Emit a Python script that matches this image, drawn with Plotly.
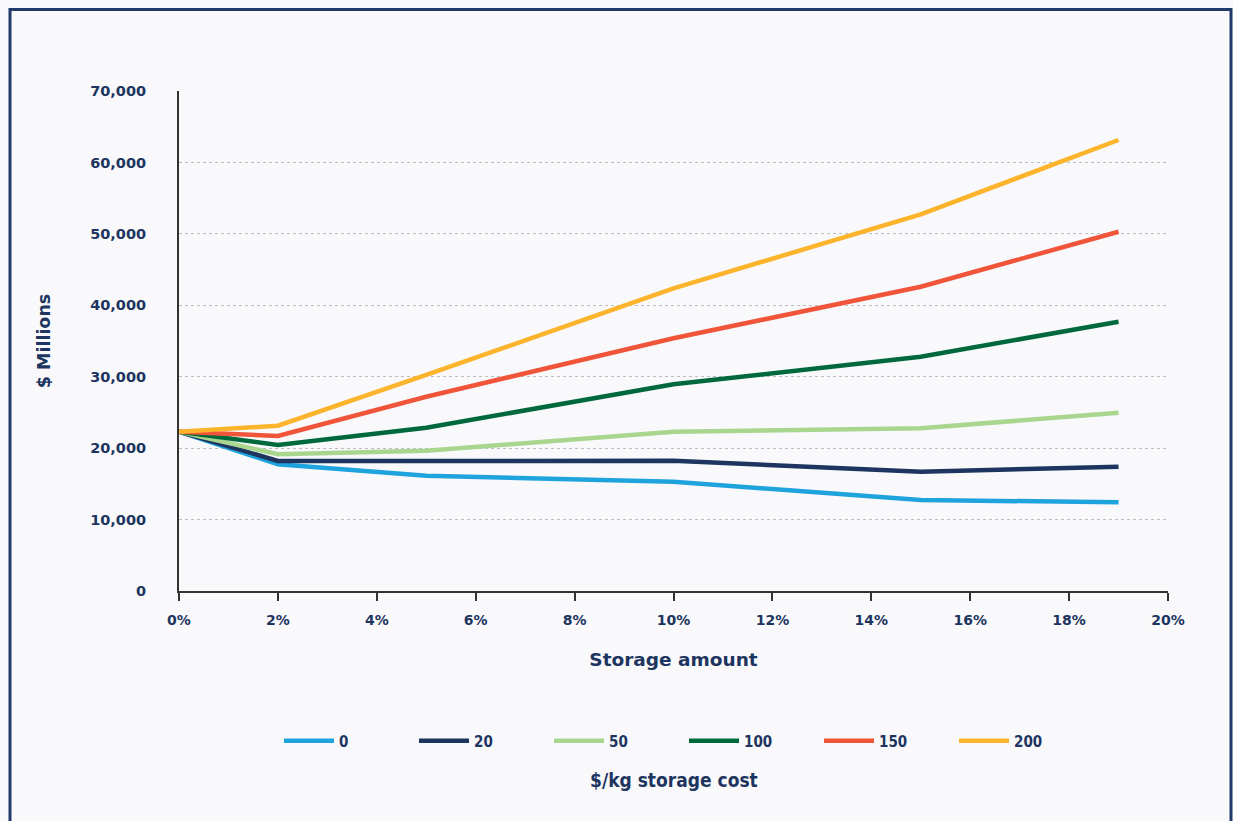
import plotly.graph_objects as go

# Storage amount (share) at which each scenario was evaluated, in percent
storage_pct = [0, 2, 5, 10, 15, 19]

# Cost ($ Millions) by $/kg storage cost
cost_0 = [22300, 17740, 16140, 15300, 12740, 12420]
cost_20 = [22300, 18200, 18200, 18240, 16700, 17400]
cost_50 = [22300, 19140, 19640, 22300, 22780, 24960]
cost_100 = [22300, 20440, 22860, 28940, 32800, 37700]
cost_150 = [22300, 21700, 27200, 35380, 42600, 50300]
cost_200 = [22300, 23140, 30250, 42380, 52740, 63140]

series_names = ["0", "20", "50", "100", "150", "200"]
series_values = [cost_0, cost_20, cost_50, cost_100, cost_150, cost_200]
series_colors = ["#1fa3dd", "#1d355f", "#a9d68e", "#00693c", "#f0553a", "#fbb42b"]

x_ticks = list(range(0, 21, 2))
x_tick_labels = [f"{v}%" for v in x_ticks]
y_ticks = list(range(0, 70001, 10000))
y_tick_labels = [f"{v:,}" for v in y_ticks]

NAVY = "#1d355f"
BG = "#f9f9fc"
FONT = "DejaVu Sans, Verdana, sans-serif"
FONT_COND = "DejaVu Sans Condensed, DejaVu Sans, sans-serif"

fig = go.Figure()
for name, vals, col in zip(series_names, series_values, series_colors):
    fig.add_trace(go.Scatter(
        x=storage_pct, y=vals, name=name, mode="lines",
        line=dict(color=col, width=4.5),
    ))

W, H = 1233, 821
L, R, T, B = 179, 65, 91, 230
pw, ph = W - L - R, H - T - B


def px_x(p):
    return (p - L) / pw


def px_y(p):
    return (H - B - p) / ph


fig.update_layout(
    width=W, height=H,
    margin=dict(l=L, r=R, t=T, b=B),
    paper_bgcolor=BG, plot_bgcolor=BG,
    font=dict(family=FONT, color=NAVY),
    showlegend=True,
    legend=dict(
        orientation="h",
        x=px_x(279), xanchor="left",
        y=px_y(741), yanchor="middle",
        itemwidth=50,
        entrywidth=135 - 50 - 15, entrywidthmode="pixels",
        font=dict(family=FONT_COND, size=15, color=NAVY, weight="bold"),
        bgcolor="rgba(0,0,0,0)",
    ),
    xaxis=dict(
        range=[0, 20], tickvals=x_ticks, ticktext=x_tick_labels,
        showgrid=False, zeroline=False,
        showline=True, linecolor="#333333", linewidth=2,
        ticks="outside", ticklen=8, tickwidth=2, tickcolor="#333333",
        tickfont=dict(family=FONT, size=14, color=NAVY, weight="bold"),
        ticklabelstandoff=7,
        title=dict(text="Storage amount", standoff=26,
                   font=dict(family=FONT, size=18.5, color=NAVY, weight="bold")),
    ),
    yaxis=dict(
        range=[0, 70000], tickvals=y_ticks, ticktext=y_tick_labels,
        showgrid=True, gridcolor="#bdbdbd", griddash="dot", gridwidth=1.2,
        zeroline=False,
        showline=True, linecolor="#333333", linewidth=2,
        ticks="", ticklabelstandoff=28,
        tickfont=dict(family=FONT, size=14.5, color=NAVY, weight="bold"),
        title=dict(text="$ Millions", standoff=35,
                   font=dict(family=FONT, size=17.5, color=NAVY, weight="bold")),
    ),
    annotations=[dict(
        text="$/kg storage cost", xref="paper", yref="paper",
        x=0.5, y=px_y(780), xanchor="center", yanchor="middle",
        showarrow=False,
        font=dict(family=FONT_COND, size=19, color=NAVY, weight="bold"),
    )],
    shapes=[dict(
        type="rect", xref="paper", yref="paper",
        x0=px_x(10), x1=px_x(1231), y0=px_y(840), y1=px_y(9.5),
        line=dict(color="#1f3a6b", width=3), fillcolor="rgba(0,0,0,0)",
        layer="above",
    )],
)

fig.write_html("out.html")
